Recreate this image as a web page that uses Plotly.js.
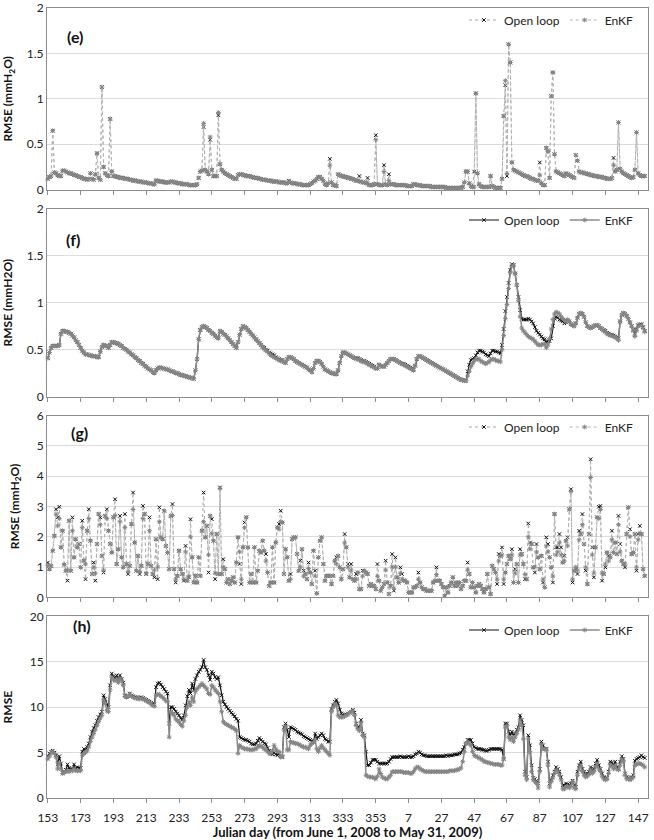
<!DOCTYPE html>
<html><head><meta charset="utf-8">
<script src="https://cdn.plot.ly/plotly-3.0.1.min.js"></script>
<style>html,body{margin:0;padding:0;background:#fff}#chart{width:654px;height:840px}</style>
</head><body><div id="chart"></div>
<script>
// Category axis: Julian days from June 1, 2008 (153) to May 31, 2009 (151)
const julianDays = [];
for (let d = 153; d <= 366; d++) julianDays.push(String(d));
for (let d = 1; d <= 151; d++) julianDays.push(String(d));
const tickDays = ['153','173','193','213','233','253','273','293','313','333','353','7','27','47','67','87','107','127','147'];
const seriesNames = ['Open loop', 'EnKF'];

// Panel (e)
const eEnkf = [0.12,0.14,0.15,0.65,0.19,0.18,0.16,0.15,0.15,0.21,0.21,0.20,0.19,
0.18,0.18,0.17,0.16,0.16,0.15,0.14,0.14,0.13,0.12,0.12,0.11,
0.12,0.18,0.12,0.11,0.17,0.40,0.13,0.11,1.13,0.25,0.18,0.16,0.15,0.78,0.20,0.15,
0.15,0.14,0.14,0.13,0.13,0.13,0.12,0.12,0.12,0.11,0.11,0.10,0.10,0.10,0.09,0.09,0.09,0.08,0.08,0.08,0.07,0.07,0.07,0.06,
0.06,0.10,0.10,0.09,0.09,0.09,0.08,0.08,0.08,0.08,0.09,0.09,
0.08,0.08,0.07,0.07,0.07,0.06,0.06,0.06,0.06,0.05,0.05,0.05,0.05,0.05,
0.06,0.13,0.20,0.21,0.73,0.22,0.20,0.17,0.58,0.22,0.15,0.15,0.15,0.85,0.28,0.22,0.20,0.18,0.17,0.16,0.15,0.14,0.13,0.12,0.12,0.16,0.17,
0.17,0.16,0.16,0.15,0.15,0.15,0.14,0.14,0.13,0.13,0.13,0.12,0.12,0.11,0.11,0.11,0.10,0.10,0.10,0.09,0.09,0.09,0.09,0.08,0.08,0.08,0.08,0.07,0.07,
0.09,0.08,0.07,0.07,0.07,0.06,0.06,0.06,0.05,0.05,0.05,
0.05,0.05,0.06,0.07,0.09,0.10,0.12,0.14,0.14,0.12,0.10,0.06,0.05,0.07,0.27,0.08,0.05,0.05,0.04,0.17,
0.16,0.15,0.15,0.14,0.14,0.13,0.13,0.12,0.12,0.11,0.10,0.10,0.09,0.09,0.08,0.08,0.07,0.07,
0.05,0.05,0.05,0.06,0.55,0.06,0.05,0.05,0.05,0.20,0.06,0.05,0.10,0.06,
0.06,0.06,0.05,0.05,0.05,0.05,0.05,0.05,0.05,0.04,0.04,0.04,0.04,0.06,0.06,
0.05,0.05,0.05,0.04,0.04,0.04,0.04,0.04,0.04,0.03,0.03,0.03,0.03,0.03,0.03,0.03,0.03,0.03,0.02,0.02,0.02,0.02,0.02,0.02,0.02,0.02,0.02,0.02,
0.03,0.08,0.20,0.20,0.07,0.04,0.03,0.03,1.06,0.18,0.06,0.04,0.03,0.03,0.03,0.03,0.03,0.15,0.04,0.03,0.02,0.02,0.02,0.02,0.12,0.81,1.20,0.18,1.60,1.40,0.30,0.22,
0.21,0.20,0.19,0.18,0.17,0.16,0.15,0.15,0.14,0.13,0.12,0.12,0.11,0.10,0.10,
0.16,0.07,0.05,0.05,0.46,0.42,0.13,1.03,1.29,0.39,0.20,0.19,0.18,0.17,0.16,0.15,0.18,0.17,0.16,0.15,0.14,0.13,0.38,0.32,0.20,
0.19,0.19,0.18,0.18,0.17,0.17,0.16,0.16,0.15,0.15,0.15,0.14,0.14,0.14,0.13,0.13,0.12,0.12,
0.12,0.13,0.27,0.20,0.22,0.74,0.23,0.20,0.18,0.17,0.16,0.15,0.14,0.13,0.14,0.22,0.63,0.18,0.16,0.15,0.15,0.15];

const eOpen = [0.12,0.14,0.15,0.65,0.19,0.18,0.16,0.15,0.15,0.21,0.21,0.20,0.19,
0.18,0.18,0.17,0.16,0.16,0.15,0.14,0.14,0.13,0.12,0.12,0.11,
0.12,0.18,0.12,0.11,0.17,0.40,0.13,0.11,1.13,0.25,0.18,0.16,0.15,0.78,0.20,0.15,
0.15,0.14,0.14,0.13,0.13,0.13,0.12,0.12,0.12,0.11,0.11,0.10,0.10,0.10,0.09,0.09,0.09,0.08,0.08,0.08,0.07,0.07,0.07,0.06,
0.06,0.10,0.10,0.09,0.09,0.09,0.08,0.08,0.08,0.08,0.09,0.09,
0.08,0.08,0.07,0.07,0.07,0.06,0.06,0.06,0.06,0.05,0.05,0.05,0.05,0.05,
0.06,0.13,0.20,0.21,0.69,0.22,0.20,0.17,0.55,0.22,0.15,0.15,0.15,0.82,0.28,0.22,0.20,0.18,0.17,0.16,0.15,0.14,0.13,0.12,0.12,0.16,0.17,
0.17,0.16,0.16,0.15,0.15,0.15,0.14,0.14,0.13,0.13,0.13,0.12,0.12,0.11,0.11,0.11,0.10,0.10,0.10,0.09,0.09,0.09,0.09,0.08,0.08,0.08,0.08,0.07,0.07,
0.10,0.08,0.07,0.07,0.07,0.06,0.06,0.06,0.05,0.05,0.05,
0.05,0.05,0.06,0.07,0.09,0.10,0.12,0.14,0.14,0.12,0.10,0.06,0.05,0.07,0.34,0.08,0.05,0.05,0.04,0.17,
0.16,0.15,0.15,0.14,0.14,0.13,0.13,0.12,0.12,0.11,0.10,0.10,0.15,0.09,0.08,0.08,0.07,0.13,
0.05,0.05,0.05,0.06,0.60,0.06,0.05,0.05,0.05,0.27,0.06,0.05,0.17,0.06,
0.06,0.06,0.05,0.05,0.05,0.05,0.05,0.05,0.05,0.04,0.04,0.04,0.04,0.06,0.06,
0.05,0.05,0.05,0.04,0.04,0.04,0.04,0.04,0.04,0.03,0.03,0.03,0.03,0.03,0.03,0.03,0.03,0.03,0.02,0.02,0.02,0.02,0.02,0.02,0.02,0.02,0.02,0.02,
0.03,0.08,0.20,0.20,0.07,0.04,0.03,0.20,1.06,0.18,0.06,0.04,0.03,0.03,0.03,0.03,0.03,0.15,0.04,0.03,0.02,0.02,0.02,0.02,0.12,0.81,1.15,0.15,1.60,1.40,0.30,0.22,
0.21,0.20,0.19,0.18,0.17,0.16,0.15,0.15,0.14,0.13,0.12,0.12,0.11,0.10,0.10,
0.30,0.07,0.05,0.05,0.46,0.42,0.13,1.03,1.29,0.39,0.20,0.19,0.18,0.17,0.16,0.15,0.18,0.17,0.16,0.15,0.14,0.13,0.38,0.32,0.20,
0.19,0.19,0.18,0.18,0.17,0.17,0.16,0.16,0.15,0.15,0.15,0.14,0.14,0.14,0.13,0.13,0.12,0.12,
0.12,0.13,0.35,0.20,0.22,0.74,0.23,0.20,0.18,0.17,0.16,0.15,0.14,0.13,0.14,0.22,0.63,0.18,0.16,0.15,0.15,0.15];

// Panel (f)
const fEnkf = [0.41,0.47,0.52,0.54,0.54,0.54,0.54,0.55,0.67,0.70,0.70,0.69,0.69,0.68,
0.67,0.65,0.63,0.60,0.58,0.55,0.52,0.49,0.47,
0.45,0.45,0.44,0.44,0.43,0.43,0.43,0.42,0.42,
0.48,0.53,0.55,0.54,0.54,0.52,0.55,0.58,0.58,0.57,0.57,
0.56,0.55,0.54,0.52,0.51,0.50,0.48,0.47,0.45,0.44,0.42,0.41,0.39,0.38,0.36,0.35,0.33,0.32,0.30,0.29,0.28,0.26,
0.25,0.28,0.30,0.31,0.31,0.30,
0.30,0.29,0.29,0.28,0.27,0.27,0.26,0.25,0.25,0.24,0.23,0.23,0.22,0.22,0.21,0.21,0.20,0.20,0.19,
0.28,0.40,0.61,0.71,0.74,0.75,0.74,
0.73,0.71,0.70,0.68,0.67,0.65,0.63,0.62,
0.70,0.69,0.67,0.66,0.64,0.62,0.60,0.58,0.56,0.54,0.52,
0.58,0.66,0.72,0.75,0.74,
0.73,0.71,0.69,0.67,0.65,0.63,0.61,0.59,0.57,0.55,0.53,0.51,0.49,0.48,0.46,0.44,0.43,0.42,0.41,0.40,0.39,
0.38,0.38,0.37,0.36,0.40,0.42,0.42,0.41,0.40,0.38,0.37,
0.36,0.35,0.34,0.33,0.32,0.31,0.29,0.28,0.26,
0.30,0.36,0.38,0.38,0.37,0.35,0.32,0.29,
0.28,0.27,0.26,0.25,0.25,0.24,
0.24,0.28,0.36,0.43,0.47,0.47,0.46,0.45,
0.44,0.43,0.42,0.41,0.40,0.40,0.39,0.38,0.37,0.37,0.36,0.35,0.34,0.33,0.32,0.31,0.30,
0.30,0.34,0.33,0.32,0.32,0.34,0.36,0.38,0.40,0.40,0.40,0.39,0.38,0.37,
0.36,0.35,0.34,0.33,0.32,0.31,0.30,0.29,0.28,
0.33,0.40,0.43,0.43,0.42,
0.41,0.40,0.39,0.38,0.37,0.36,0.35,0.34,0.33,0.32,0.31,0.30,0.29,0.28,0.27,0.26,0.25,0.24,0.23,0.22,0.21,0.20,0.19,0.18,0.18,0.17,
0.17,0.22,0.27,0.32,0.35,0.38,0.40,0.40,0.40,0.38,
0.37,0.36,0.35,0.36,0.37,0.39,0.40,0.40,0.39,0.38,
0.38,0.37,0.50,0.65,0.83,0.98,1.15,1.32,1.39,1.40,
1.31,1.19,1.02,0.85,0.73,0.70,0.68,0.66,0.64,0.63,
0.62,0.61,0.59,0.57,0.55,0.55,0.55,0.56,0.56,0.52,
0.55,0.62,0.72,0.82,0.88,0.90,0.89,0.88,0.85,0.83,
0.81,0.80,0.82,0.80,0.77,0.76,0.75,0.78,0.84,0.88,
0.89,0.88,0.85,0.79,0.75,0.74,0.73,0.74,0.75,0.76,
0.76,0.75,0.73,0.72,0.70,0.69,0.67,0.66,0.65,0.65,
0.64,0.63,0.62,0.60,0.80,0.87,0.89,0.88,0.86,0.83,
0.79,0.75,0.70,0.64,0.70,0.75,0.76,0.76,0.73,0.69];

const fOpen = [0.41,0.47,0.52,0.54,0.54,0.54,0.54,0.55,0.67,0.70,0.70,0.69,0.69,0.68,
0.67,0.65,0.63,0.60,0.58,0.55,0.52,0.49,0.47,
0.45,0.45,0.44,0.44,0.43,0.43,0.43,0.42,0.42,
0.48,0.53,0.55,0.54,0.54,0.52,0.55,0.58,0.58,0.57,0.57,
0.56,0.55,0.54,0.52,0.51,0.50,0.48,0.47,0.45,0.44,0.42,0.41,0.39,0.38,0.36,0.35,0.33,0.32,0.30,0.29,0.28,0.26,
0.25,0.28,0.30,0.31,0.31,0.30,
0.30,0.29,0.29,0.28,0.27,0.27,0.26,0.25,0.25,0.24,0.23,0.23,0.22,0.22,0.21,0.21,0.20,0.20,0.19,
0.28,0.40,0.61,0.71,0.74,0.75,0.74,
0.73,0.71,0.70,0.68,0.67,0.65,0.63,0.62,
0.70,0.69,0.67,0.66,0.64,0.62,0.60,0.58,0.56,0.54,0.52,
0.58,0.66,0.72,0.75,0.74,
0.73,0.71,0.69,0.67,0.65,0.63,0.61,0.59,0.57,0.55,0.53,0.52,0.50,0.49,0.47,0.46,0.45,0.44,0.42,0.41,0.40,
0.39,0.39,0.37,0.36,0.40,0.42,0.42,0.41,0.40,0.38,0.37,
0.36,0.35,0.34,0.33,0.32,0.31,0.29,0.28,0.26,
0.30,0.36,0.38,0.38,0.37,0.35,0.32,0.29,
0.28,0.27,0.26,0.25,0.25,0.24,
0.24,0.28,0.36,0.43,0.47,0.47,0.46,0.45,
0.44,0.43,0.42,0.41,0.41,0.41,0.40,0.39,0.38,0.38,0.37,0.36,0.35,0.34,0.33,0.32,0.30,
0.30,0.34,0.33,0.32,0.32,0.34,0.36,0.38,0.40,0.40,0.40,0.39,0.38,0.37,
0.36,0.35,0.35,0.34,0.33,0.32,0.31,0.30,0.28,
0.33,0.40,0.43,0.43,0.42,
0.41,0.40,0.39,0.38,0.37,0.36,0.35,0.34,0.33,0.32,0.31,0.30,0.29,0.28,0.27,0.26,0.25,0.24,0.23,0.22,0.21,0.20,0.19,0.18,0.18,0.17,
0.17,0.27,0.34,0.39,0.40,0.41,0.44,0.47,0.49,0.49,
0.48,0.47,0.45,0.44,0.43,0.46,0.49,0.49,0.48,0.48,
0.47,0.46,0.55,0.72,0.91,1.06,1.21,1.35,1.41,1.40,
1.31,1.19,1.06,0.92,0.83,0.82,0.82,0.82,0.83,0.82,
0.80,0.78,0.74,0.70,0.68,0.66,0.64,0.62,0.61,0.58,
0.59,0.59,0.62,0.75,0.83,0.85,0.84,0.82,0.81,0.80,
0.78,0.79,0.81,0.80,0.77,0.76,0.75,0.78,0.84,0.88,
0.89,0.88,0.85,0.79,0.75,0.74,0.73,0.74,0.75,0.76,
0.76,0.75,0.73,0.72,0.71,0.70,0.68,0.67,0.66,0.66,
0.65,0.64,0.63,0.62,0.80,0.87,0.89,0.88,0.86,0.83,
0.79,0.75,0.71,0.67,0.72,0.76,0.77,0.77,0.74,0.70];

// Panel (g)
const gOpen = [1.15,0.93,1.04,1.54,2.03,2.91,2.64,2.99,1.65,
2.2,1.08,0.88,0.55,2.53,0.88,2.64,1.32,1.92,
1.65,1.76,0.99,2.53,1.21,0.6,2.2,2.91,1.87,
0.77,1.15,0.55,1.76,2.75,2.64,1.37,0.82,2.69,
2.91,2.2,1.76,1.48,2.64,3.24,1.1,1.59,
2.69,1.32,0.99,2.75,1.1,0.77,1.04,2.42,3.46,
1.81,0.88,1.37,0.77,1.04,3.02,2.75,0.77,
1.1,2.64,1.04,0.77,0.66,1.92,0.6,2.97,1.98,
1.92,2.86,1.7,1.48,0.93,2.69,3.08,0.93,
0.49,0.71,1.54,0.93,0.77,0.55,1.7,0.55,0.66,
2.58,1.32,0.49,0.71,0.49,1.32,0.71,2.2,
3.46,1.98,2.36,0.82,2.69,2.58,1.87,0.6,
2.09,0.77,3.63,0.77,1.26,0.93,0.49,0.6,0.44,0.55,
0.66,0.49,1.15,1.98,
1.1,0.44,1.65,2.47,2.64,1.65,0.49,0.77,0.49,
1.65,0.49,0.88,1.54,1.48,1.87,1.54,1.43,0.82,0.38,
0.49,1.65,0.49,1.81,2.31,2.42,2.86,2.47,0.77,
1.59,1.32,0.55,0.77,1.92,1.98,1.98,1.43,0.88,1.21,
1.59,0.88,0.77,0.6,1.15,0.82,0.44,1.54,0.88,
0.13,1.32,1.87,1.98,1.1,0.55,0.71,0.71,0.71,0.44,
0.71,1.21,1.32,1.37,0.99,0.6,0.93,2.09,1.65,1.1,
0.66,1.1,0.6,0.55,0.77,0.82,0.27,0.27,0.88,
0.88,0.82,0.77,0.38,0.44,0.38,0.38,0.27,1.1,0.55,
0.22,0.33,0.44,1.21,0.49,0.11,0.38,1.43,0.22,1.32,
0.66,0.49,0.99,0.77,0.55,0.55,0.49,0.16,0.16,0.16,
0.33,0.33,0.38,0.82,0.49,0.33,0.27,0.27,0.22,
0.22,0.22,0.22,0.49,0.55,0.99,0.55,0.55,0.44,
0.33,0.05,0.33,
0.16,0.38,0.49,0.66,0.38,0.49,0.38,0.49,0.27,0.38,
0.55,0.55,1.15,0.77,0.33,0.49,0.33,0.16,0.38,0.44,
0.38,0.27,0.16,0.27,0.77,0.33,0.11,1.04,0.93,0.82,
0.44,1.43,1.37,1.65,0.44,0.82,1.1,1.37,1.26,1.59,
0.49,0.93,1.1,0.49,1.59,1.43,1.1,0.6,0.6,2.44,
1.81,1.76,0.99,0.82,1.76,1.32,0.93,1.37,0.49,0.33,
1.98,1.76,1.32,0.99,0.49,2.75,1.65,1.65,2.09,1.65,
1.15,1.37,1.87,1.98,2.91,3.57,0.49,0.88,0.93,
0.77,2.2,2.09,2.75,1.76,0.88,0.44,2.09,4.56,1.65,
0.66,1.65,2.64,2.99,3.02,0.55,0.77,0.99,1.48,1.37,
1.32,2.2,1.48,1.81,1.43,2.69,1.76,1.21,1.1,0.99,
2.09,2.97,2.25,1.43,1.48,2.09,0.88,2.09,2.36,2.09,
0.93,0.71];

const gEnkf = [1.05,0.93,1.04,1.54,2.03,2.75,2.36,2.6,1.65,
2.2,1.08,0.88,0.9,2.53,0.88,2.2,1.32,1.92,
1.65,1.76,0.99,2.3,1.21,1.1,2.2,2.6,1.87,
0.77,1.0,0.8,1.76,2.75,2.4,1.37,0.9,2.69,
2.6,2.2,1.76,1.48,2.64,2.7,1.1,1.59,
2.5,1.32,0.99,2.3,1.1,0.85,1.04,2.42,2.9,
1.81,0.88,1.37,0.85,1.04,2.6,2.75,0.8,
1.1,2.2,1.04,0.77,0.9,1.92,1.0,2.5,1.98,
1.92,2.86,1.7,1.48,0.93,2.69,2.7,0.93,
0.6,0.71,1.54,0.93,0.77,0.6,1.5,0.55,0.7,
2.0,1.32,0.5,0.71,0.49,1.32,0.71,2.2,
2.5,1.98,2.36,1.4,2.69,2.1,1.87,0.8,
2.09,0.77,3.6,0.77,1.0,0.93,0.49,0.6,0.44,0.55,
0.66,0.49,1.15,1.98,
1.5,0.6,1.65,2.3,2.64,1.65,0.49,0.77,0.49,
1.65,0.49,0.88,1.54,1.48,1.87,1.54,1.2,0.82,0.38,
0.49,1.65,0.49,1.81,2.31,2.25,2.5,2.47,0.77,
1.59,1.32,0.55,0.6,1.92,1.98,1.98,1.43,0.88,1.0,
1.59,0.7,0.77,0.6,0.95,0.82,0.44,1.54,0.7,
0.13,1.32,1.87,1.98,1.1,0.55,0.71,0.71,0.71,0.44,
0.71,1.21,1.1,1.37,0.99,0.6,0.93,1.8,1.65,1.0,
0.66,0.9,0.6,0.55,0.6,0.82,0.27,0.27,0.7,
0.88,0.82,0.77,0.38,0.44,0.38,0.38,0.27,0.7,0.55,
0.22,0.33,0.44,0.9,0.49,0.11,0.38,1.0,0.3,1.0,
0.66,0.49,0.8,0.6,0.55,0.55,0.49,0.16,0.16,0.16,
0.33,0.33,0.38,0.6,0.49,0.33,0.27,0.27,0.22,
0.22,0.22,0.22,0.49,0.55,0.75,0.55,0.55,0.44,
0.33,0.05,0.33,
0.16,0.38,0.49,0.66,0.38,0.49,0.38,0.49,0.27,0.38,
0.55,0.55,0.9,0.77,0.33,0.49,0.33,0.16,0.38,0.44,
0.38,0.27,0.16,0.27,0.77,0.33,0.11,1.04,0.93,0.82,
0.6,1.2,1.37,1.4,0.6,0.82,1.1,1.37,1.26,1.4,
0.49,0.8,1.1,0.49,1.4,1.43,1.1,0.75,0.6,2.0,
1.6,1.76,0.99,1.0,1.5,1.32,0.93,1.37,0.6,0.33,
1.7,1.5,1.32,0.99,0.7,2.75,1.4,1.5,1.8,1.4,
1.15,1.2,1.87,1.7,2.91,3.5,0.6,0.88,1.0,
0.9,1.9,2.09,2.4,1.76,1.0,0.44,2.09,3.96,1.4,
0.8,1.65,2.64,2.6,2.9,0.8,0.77,1.1,1.48,1.2,
1.32,1.9,1.48,1.81,1.43,2.4,1.5,1.21,1.1,1.1,
2.09,2.97,2.0,1.43,1.48,2.09,1.0,1.9,2.1,2.09,
0.93,0.71];

// Panel (h)
const hOpen = [4.6,4.9,5.1,5.2,5.0,4.7,3.7,4.6,3.8,2.7,
2.9,3.1,3.7,3.3,3.2,3.2,3.7,3.2,3.4,3.3,
3.3,5.1,5.4,5.3,5.6,6.0,6.7,7.3,7.7,8.0,
8.5,8.9,9.2,9.5,11.3,10.9,10.3,10.0,12.4,13.7,
13.4,13.2,13.5,13.1,13.5,13.1,12.7,11.3,11.1,11.2,
11.5,11.3,11.2,11.1,11.1,11.0,11.0,11.1,11.0,10.9,
10.8,10.7,10.6,10.5,10.4,10.3,12.2,12.6,12.7,12.5,
12.2,12.0,11.7,11.5,8.2,10.0,10.0,9.8,9.5,9.3,
9.1,8.8,8.6,9.1,10.2,11.2,11.9,11.5,12.6,11.9,
13.1,13.5,13.9,14.1,14.4,15.2,14.4,14.1,13.5,13.0,
13.9,13.7,13.3,13.1,13.3,12.4,11.3,10.6,10.3,10.0,
9.8,9.6,9.4,9.2,9.0,8.7,8.5,6.7,6.6,6.5,
6.4,6.4,6.3,6.2,6.0,5.9,5.9,6.0,6.3,6.6,
6.4,6.2,6.0,5.9,5.5,5.2,4.9,4.8,5.0,4.8,
4.7,4.9,4.6,4.5,7.8,8.2,7.5,6.7,7.8,7.7,
7.6,7.5,7.3,7.2,7.1,7.0,6.8,6.7,6.6,6.5,
6.4,6.3,6.2,7.1,6.5,6.7,6.9,7.1,6.9,6.5,
6.4,6.2,6.2,9.8,10.2,10.6,10.8,10.4,9.7,9.3,
9.1,9.2,9.2,9.3,9.4,9.5,9.7,9.4,8.2,7.8,
7.6,8.6,7.1,6.9,5.1,3.6,3.6,3.9,4.2,4.2,
4.2,4.0,3.8,3.8,3.8,3.8,3.8,3.8,4.0,4.3,
4.5,4.5,4.5,4.5,4.5,4.6,4.5,4.5,4.5,4.5,
4.6,4.5,4.5,4.6,4.8,4.9,5.1,5.0,4.8,4.7,
4.7,4.6,4.6,4.6,4.6,4.6,4.6,4.6,4.6,4.6,
4.6,4.6,4.6,4.7,4.6,4.7,4.7,4.7,4.8,4.8,
4.8,4.9,5.0,5.3,5.6,6.0,6.4,6.4,6.4,6.0,
5.6,5.5,5.4,5.4,5.4,5.3,5.3,5.2,5.2,5.3,
5.4,5.4,5.4,5.4,5.4,5.4,5.4,5.3,4.3,8.2,
8.2,7.3,6.9,7.3,6.9,7.1,7.5,7.8,9.1,8.6,
8.0,2.9,2.3,6.9,5.8,3.6,2.2,2.1,1.9,1.6,
3.2,6.2,5.8,5.4,5.4,4.0,1.6,2.0,2.5,2.9,
3.4,3.2,2.9,2.3,1.4,1.4,1.6,1.5,1.4,1.6,
1.9,1.4,1.2,2.9,3.6,4.0,3.2,2.9,2.5,2.7,
2.9,3.4,3.0,3.2,3.8,4.2,3.6,3.2,2.7,2.3,
2.1,2.2,2.9,4.0,3.9,3.6,4.0,3.4,3.2,4.0,
4.6,4.3,2.7,2.3,2.2,2.1,2.3,2.5,4.1,4.3,
4.4,4.5,4.7,4.5,4.4];

const hEnkf = [4.3,4.6,5.0,5.1,4.9,4.5,3.2,3.9,3.2,2.7,
2.8,2.9,3.0,2.9,3.0,3.0,3.2,3.0,3.0,3.0,
3.0,4.7,4.9,5.0,5.2,5.6,6.2,6.7,7.1,7.5,
8.0,8.4,8.8,9.1,10.8,10.4,9.6,9.5,11.9,13.3,
13.0,12.9,13.1,12.7,13.2,12.9,12.4,11.2,11.1,11.2,
11.4,11.2,11.1,11.0,11.0,10.9,10.9,11.0,10.9,10.8,
10.7,10.6,10.5,10.3,10.2,10.1,11.3,11.4,11.4,11.2,
11.1,10.9,10.7,10.6,6.7,9.5,9.3,9.1,8.7,8.5,
8.4,8.1,7.9,8.5,9.1,10.0,10.6,10.2,11.1,10.6,
11.7,12.0,12.2,12.4,12.6,12.4,12.2,12.0,11.5,11.4,
12.4,12.2,11.9,11.7,11.5,10.6,9.5,8.4,8.2,8.1,
8.0,7.9,7.8,7.7,7.6,7.4,4.9,5.8,5.6,5.5,
5.4,5.4,5.4,5.3,5.3,5.3,5.4,5.4,5.6,5.8,
5.7,5.6,5.4,5.3,5.1,4.9,4.9,5.2,5.8,5.4,
5.1,5.1,4.5,4.6,7.5,7.9,5.3,5.3,6.2,6.1,
6.1,6.0,6.0,5.9,5.8,5.7,5.6,5.6,5.5,5.4,
5.8,6.0,6.1,6.4,5.4,5.1,5.5,5.8,5.5,5.3,
5.1,4.9,4.7,9.5,10.0,10.4,10.2,9.1,8.9,8.9,
8.9,9.0,9.1,9.2,9.4,9.5,9.6,9.1,8.0,7.6,
7.4,8.3,6.9,6.7,2.5,2.4,2.3,2.3,2.3,2.2,
2.1,2.4,3.2,2.7,2.3,2.2,2.1,2.1,2.3,2.5,
2.9,2.9,2.9,2.9,2.9,2.9,2.9,2.8,2.8,2.8,
2.8,2.7,2.7,2.9,3.2,3.4,3.4,3.2,3.1,3.0,
2.9,2.9,2.9,2.9,2.9,2.9,2.9,2.9,2.9,2.9,
2.9,2.9,2.9,2.9,2.9,3.0,3.0,3.0,3.0,3.1,
3.1,3.2,3.3,4.0,5.1,6.0,6.2,6.0,5.8,5.1,
4.7,4.6,4.5,4.4,4.3,4.2,4.0,4.0,3.9,3.9,
3.8,3.8,3.7,3.7,3.7,3.7,3.6,3.6,4.3,7.8,
8.0,6.7,6.4,6.7,6.2,6.7,7.1,7.5,8.6,8.0,
6.5,2.5,2.0,6.5,5.1,2.9,2.0,1.8,1.6,1.1,
2.9,5.9,5.4,5.4,5.3,3.6,1.2,1.8,2.2,2.7,
3.1,2.9,2.5,2.0,1.0,1.0,1.2,1.3,1.1,1.3,
1.8,1.1,1.0,2.5,3.2,3.6,2.9,2.5,2.3,2.4,
2.6,3.1,2.7,2.9,3.4,3.8,3.2,2.9,2.4,2.1,
2.0,2.1,2.7,3.7,3.5,3.2,3.6,3.2,3.1,3.6,
4.3,4.0,2.5,2.1,2.1,2.0,2.1,2.3,3.6,3.7,
3.8,3.8,3.7,3.6,3.4];

const allSeries = {eOpen,eEnkf,fOpen,fEnkf,gOpen,gEnkf,hOpen,hEnkf};
const bad = Object.entries(allSeries).filter(([k,v]) => v.length !== julianDays.length).map(([k,v]) => k + ':' + v.length);
if (bad.length) throw new Error('Length mismatch ' + bad.join(', ') + ' expected ' + julianDays.length);

const FONT = 'Lato, "Open Sans", sans-serif';
const AX = '#8c8c8c', GRID = '#dcdcdc';

function makePair(xa, ya, leg, openVals, enkfVals, dotted) {
  const openTrace = {
    type: 'scatter', mode: 'lines+markers', name: seriesNames[0], x: julianDays, y: openVals,
    xaxis: xa, yaxis: ya, legend: leg, cliponaxis: false,
    line: dotted ? {color: '#a6a6a6', width: 1, dash: 'dot'} : {color: '#111', width: 1.2},
    marker: {symbol: 'x-thin-open', size: 3.5, color: '#111', line: {color: '#111', width: 1}}
  };
  const enkfTrace = {
    type: 'scatter', mode: 'lines+markers', name: seriesNames[1], x: julianDays, y: enkfVals,
    xaxis: xa, yaxis: ya, legend: leg, cliponaxis: false,
    line: dotted ? {color: '#b5b5b5', width: 1, dash: 'dot'} : {color: '#8a8a8a', width: 1.5},
    marker: {symbol: 'asterisk-open', size: 4, color: '#858585', line: {color: '#858585', width: 1}}
  };
  return [openTrace, enkfTrace];
}

const data = [].concat(
  makePair('x', 'y', 'legend', eOpen, eEnkf, true),
  makePair('x2', 'y2', 'legend2', fOpen, fEnkf, false),
  makePair('x3', 'y3', 'legend3', gOpen, gEnkf, true),
  makePair('x4', 'y4', 'legend4', hOpen, hEnkf, false)
);

function xAxis(anchor, labels) {
  return {
    type: 'category', domain: [0, 1], anchor: anchor, range: [-0.5, 366],
    tickmode: 'array', tickvals: tickDays, ticktext: tickDays, showticklabels: labels,
    ticks: 'outside', ticklen: 4, tickcolor: AX, tickwidth: 1, ticklabelstandoff: 5,
    showline: true, linecolor: AX, linewidth: 1, mirror: true,
    showgrid: false, zeroline: false, fixedrange: true,
    tickfont: {family: FONT, size: 12, color: '#222'}
  };
}
function yAxis(anchor, dom, range, dtick, title) {
  return {
    anchor: anchor, domain: dom, range: range, dtick: dtick, tick0: 0,
    showgrid: true, gridcolor: GRID, gridwidth: 1,
    showline: true, linecolor: AX, linewidth: 1, mirror: true,
    ticks: '', zeroline: false, fixedrange: true,
    tickfont: {family: FONT, size: 12, color: '#222'},
    title: {text: title, font: {family: FONT, size: 12, color: '#111'}, standoff: 14}
  };
}
function legendAt(y) {
  return {x: 0.985, y: y, xanchor: 'right', yanchor: 'middle', orientation: 'h',
    bgcolor: 'rgba(0,0,0,0)', font: {family: FONT, size: 12, color: '#222'}, itemwidth: 30};
}

const xa4 = xAxis('y4', true);
xa4.title = {text: '<b>Julian day (from June 1, 2008 to May 31, 2009)</b>', font: {family: FONT, size: 13, color: '#111'}, standoff: 9};

const layout = {
  width: 654, height: 840,
  margin: {l: 47, r: 6, t: 7, b: 42},
  paper_bgcolor: '#fff', plot_bgcolor: '#fff',
  font: {family: FONT, size: 12, color: '#222'},
  xaxis: xAxis('y', false),
  xaxis2: xAxis('y2', false),
  xaxis3: xAxis('y3', false),
  xaxis4: xa4,
  yaxis: yAxis('x', [0.770, 1.0], [0, 2], 0.5, '<b>RMSE (mmH<sub>2</sub>O)</b>'),
  yaxis2: yAxis('x2', [0.508, 0.746], [0, 2], 0.5, '<b>RMSE (mmH2O)</b>'),
  yaxis3: yAxis('x3', [0.254, 0.484], [0, 6], 1, '<b>RMSE (mmH<sub>2</sub>O)</b>'),
  yaxis4: yAxis('x4', [0, 0.230], [0, 20], 5, '<b>RMSE</b>'),
  legend: legendAt(0.9836),
  legend2: legendAt(0.7307),
  legend3: legendAt(0.469),
  legend4: legendAt(0.2124),
  showlegend: true,
  annotations: [
    {text: '<b>(e)</b>', x: 0.030, y: 0.9785, xref: 'paper', yref: 'paper', showarrow: false, font: {family: FONT, size: 16, color: '#111'}},
    {text: '<b>(f)</b>', x: 0.0275, y: 0.7212, xref: 'paper', yref: 'paper', showarrow: false, font: {family: FONT, size: 16, color: '#111'}},
    {text: '<b>(g)</b>', x: 0.0366, y: 0.4627, xref: 'paper', yref: 'paper', showarrow: false, font: {family: FONT, size: 16, color: '#111'}},
    {text: '<b>(h)</b>', x: 0.040, y: 0.2042, xref: 'paper', yref: 'paper', showarrow: false, font: {family: FONT, size: 16, color: '#111'}}
  ]
};

Plotly.newPlot('chart', data, layout, {displayModeBar: false, staticPlot: true});
</script>
</body></html>
